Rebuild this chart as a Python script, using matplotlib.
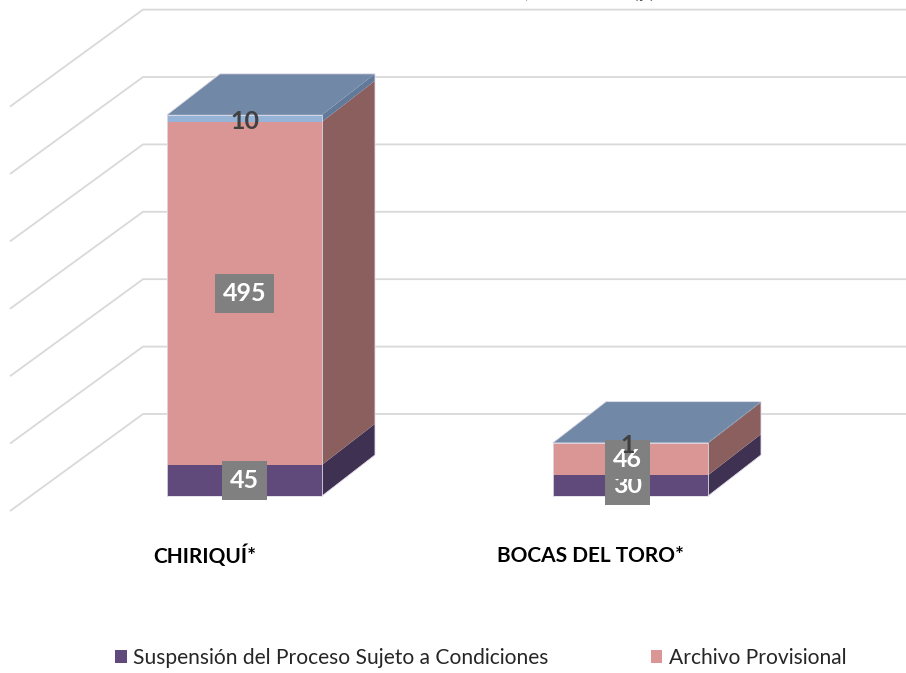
import matplotlib
matplotlib.use("Agg")
import matplotlib.pyplot as plt
from matplotlib.patches import Polygon, Patch

# ---- data ----
categories = ["CHIRIQUÍ*", "BOCAS DEL TORO*"]
suspension = [45, 30]
archivo = [495, 46]
otros = [10, 1]
series_names = ["Suspensión del Proceso Sujeto a Condiciones", "Archivo Provisional"]
grid_values = [0, 100, 200, 300, 400, 500, 600]
title_text = "CAUSAS TERMINADAS POR SALIDAS ALTERNAS, AÑO 2019 (p)"

# ---- style ----
front_cols = ["#604A7B", "#D99694", "#95B3D7"]
side_cols = ["#3F3151", "#8B5F5E", "#62799A"]
top_col = "#7189A6"
grid_col = "#D9D9D9"
FONT = "Lato"

W, H = 906, 673
fig = plt.figure(figsize=(W / 100, H / 100), dpi=100)
ax = fig.add_axes([0, 0, 1, 1])
ax.set_xlim(0, W)
ax.set_ylim(H, 0)
ax.axis("off")

# projection parameters (pixels)
wall_x0, wall_y0, wall_k = 143, 414, 0.674      # back wall: origin and px per unit
side_dx, side_dy = -133, 97                     # side wall depth offset
bar_y0, bar_k = 496, 0.693                      # bar front: baseline and px per unit
bar_x0, bar_step, bar_w = 167, 386, 155
depth_dx, depth_dy = 53, -41


def wall_y(v):
    return wall_y0 - v * wall_k


def bar_y(v):
    return bar_y0 - v * bar_k


# back wall + side wall gridlines
for g in grid_values:
    y = wall_y(g)
    ax.plot([wall_x0 + side_dx, wall_x0, W], [y + side_dy, y, y],
            color=grid_col, lw=1.3, zorder=1, solid_capstyle="butt")

stacks = [suspension, archivo, otros]
for i, cat in enumerate(categories):
    xl = bar_x0 + i * bar_step
    xr = xl + bar_w
    base = 0
    tops = []
    for s, vals in enumerate(stacks):
        v = vals[i]
        y_b, y_t = bar_y(base), bar_y(base + v)
        ax.add_patch(Polygon([(xl, y_b), (xr, y_b), (xr, y_t), (xl, y_t)], closed=True,
                             facecolor=front_cols[s], edgecolor="none", zorder=3))
        ax.add_patch(Polygon([(xr, y_b), (xr + depth_dx, y_b + depth_dy),
                              (xr + depth_dx, y_t + depth_dy), (xr, y_t)], closed=True,
                             facecolor=side_cols[s], edgecolor="none", zorder=3))
        tops.append((base, v))
        base += v
    y_b0 = bar_y(0)
    y_t = bar_y(base)
    ax.add_patch(Polygon([(xl, y_t), (xr, y_t), (xr + depth_dx, y_t + depth_dy),
                          (xl + depth_dx, y_t + depth_dy)], closed=True,
                         facecolor=top_col, edgecolor="none", zorder=3))
    # faint edges
    ax.plot([xl, xr, xr, xl, xl], [y_b0, y_b0, y_t, y_t, y_b0],
            color="#E2DCEA", lw=0.6, zorder=4)
    ax.plot([xr, xr + depth_dx, xr + depth_dx, xl + depth_dx, xl],
            [y_b0, y_b0 + depth_dy, y_t + depth_dy, y_t + depth_dy, y_t],
            color="#E2DCEA", lw=0.6, zorder=4)

    xc = (xl + xr) / 2
    for s, (b, v) in enumerate(tops):
        yc = bar_y(b + v / 2)
        if s < 2:
            ax.text(xc - 3 * i, yc, str(v), ha="center", va="center", fontsize=18,
                    fontweight="bold", color="white", family=FONT, zorder=6 + s,
                    bbox=dict(boxstyle="square,pad=0.32", facecolor="#808080",
                              edgecolor="none"))
        else:
            ax.text(xc - 3 * i, yc + 3, str(v), ha="center", va="center", fontsize=18,
                    fontweight="bold", color="#404040", family=FONT, zorder=9)
    ax.text(xc - 40, 556, cat, ha="center", va="center", fontsize=15,
            fontweight="bold", color="black", family=FONT)

# title (mostly clipped at top)
ax.text(655, -2, title_text, ha="right", va="baseline", fontsize=14,
        fontweight="bold", color="#595959", family=FONT, clip_on=False)

# legend
handles = [Patch(facecolor=front_cols[0]), Patch(facecolor=front_cols[1])]
leg = ax.legend(handles, series_names, loc="center left",
                bbox_to_anchor=(115 / W, 1 - 658 / H), ncol=2, frameon=False,
                handlelength=0.55, handleheight=0.55, handletextpad=0.3,
                columnspacing=4.9, borderpad=0, borderaxespad=0,
                prop={"family": FONT, "size": 15.1})
for t in leg.get_texts():
    t.set_color("#262626")

fig.savefig("out.png", dpi=100)
